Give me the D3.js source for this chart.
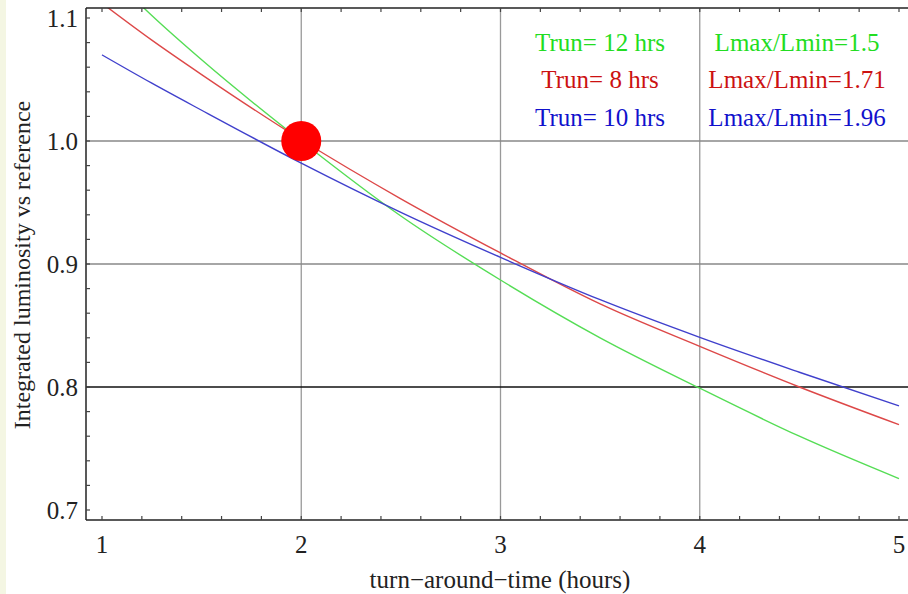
<!DOCTYPE html>
<html>
<head>
<meta charset="utf-8">
<script src="https://cdn.jsdelivr.net/npm/d3@7"></script>
<style>
  html, body { margin: 0; padding: 0; background: #ffffff; }
  svg { display: block; font-family: 'Liberation Serif', 'DejaVu Serif', serif; }
</style>
</head>
<body>
<svg id="chart" width="908" height="594"></svg>
<script>
// ---- data ----
const turnaround = [1, 1.25, 1.5, 2, 2.5, 3, 3.5, 4, 4.5, 5];
const lumiTrun12 = [1.142, 1.102, 1.066, 1.000, 0.939, 0.887, 0.840, 0.799, 0.760, 0.7255];
const lumiTrun8  = [1.112, 1.082, 1.054, 1.001, 0.953, 0.909, 0.8675, 0.833, 0.800, 0.7694];
const lumiTrun10 = [1.070, 1.047, 1.025, 0.982, 0.942, 0.9054, 0.871, 0.8404, 0.812, 0.7846];
const seriesNames = ["Trun= 12 hrs", "Trun= 8 hrs", "Trun= 10 hrs"];
const ratioLabels = ["Lmax/Lmin=1.5", "Lmax/Lmin=1.71", "Lmax/Lmin=1.96"];
const xTicks = [1, 2, 3, 4, 5];
const yTicks = [0.7, 0.8, 0.9, 1.0, 1.1];
const yTickLabels = ["0.7", "0.8", "0.9", "1.0", "1.1"];
const referencePoint = [2, 1.0];

// ---- styles ----
const FONT = "Liberation Serif, DejaVu Serif, serif";
const lineColors = ["#55dd55", "#dd4848", "#4040cc"];
const textColors = ["#22dd22", "#cc1111", "#1111cc"];

const svg = d3.select("#chart");
const W = 908, H = 594;

// left pale strip
svg.append("rect").attr("x", 0).attr("y", 0).attr("width", 6).attr("height", H).attr("fill", "#f4f6e3");

const plot = { left: 86, right: 915, top: 8, bottom: 520 };

const x = d3.scaleLinear().domain([1, 5]).range([102, 899]);
const y = d3.scaleLinear().domain([0.7, 1.0]).range([510, 141]);

// clip
svg.append("clipPath").attr("id", "clip")
  .append("rect").attr("x", plot.left).attr("y", plot.top)
  .attr("width", plot.right - plot.left).attr("height", plot.bottom - plot.top);

// grid lines
const g = svg.append("g").attr("clip-path", "url(#clip)");
[2, 3, 4].forEach(v => {
  g.append("line").attr("x1", x(v)).attr("x2", x(v)).attr("y1", plot.top).attr("y2", plot.bottom)
    .attr("stroke", "#999").attr("stroke-width", 1.3);
});
[0.9, 1.0].forEach(v => {
  g.append("line").attr("x1", plot.left).attr("x2", plot.right).attr("y1", y(v)).attr("y2", y(v))
    .attr("stroke", "#888").attr("stroke-width", 1.3);
});
g.append("line").attr("x1", plot.left).attr("x2", plot.right).attr("y1", y(0.8)).attr("y2", y(0.8))
  .attr("stroke", "#111").attr("stroke-width", 1.3);

// curves
const allSeries = [lumiTrun12, lumiTrun8, lumiTrun10];
const lineGen = d3.line().x(d => x(d[0])).y(d => y(d[1])).curve(d3.curveMonotoneX);
allSeries.forEach((vals, i) => {
  const pts = turnaround.map((t, k) => [t, vals[k]]);
  g.append("path").attr("d", lineGen(pts)).attr("fill", "none")
    .attr("stroke", lineColors[i]).attr("stroke-width", 1.4);
});

// reference dot
g.append("circle").attr("cx", x(referencePoint[0])).attr("cy", y(referencePoint[1]))
  .attr("r", 20).attr("fill", "#ff0000");

// frame
const frame = svg.append("g");
frame.append("line").attr("x1", plot.left).attr("x2", plot.left).attr("y1", plot.top).attr("y2", plot.bottom)
  .attr("stroke", "#222").attr("stroke-width", 1.5);
frame.append("line").attr("x1", plot.left).attr("x2", plot.right).attr("y1", plot.bottom).attr("y2", plot.bottom)
  .attr("stroke", "#222").attr("stroke-width", 1.5);
frame.append("line").attr("x1", plot.left).attr("x2", plot.right).attr("y1", plot.top).attr("y2", plot.top)
  .attr("stroke", "#222").attr("stroke-width", 1.5);

// minor ticks
const xMinor = d3.range(0, 21).map(i => 1 + i * 0.2).filter(v => v <= 5.01);
xMinor.forEach(v => {
  frame.append("line").attr("x1", x(v)).attr("x2", x(v)).attr("y1", plot.bottom).attr("y2", plot.bottom - 4)
    .attr("stroke", "#444").attr("stroke-width", 1.2);
  frame.append("line").attr("x1", x(v)).attr("x2", x(v)).attr("y1", plot.top).attr("y2", plot.top + 4)
    .attr("stroke", "#444").attr("stroke-width", 1.2);
});
const yMinor = d3.range(0, 21).map(i => 0.7 + i * 0.02).filter(v => v <= 1.101);
yMinor.forEach(v => {
  frame.append("line").attr("x1", plot.left).attr("x2", plot.left + 4).attr("y1", y(v)).attr("y2", y(v))
    .attr("stroke", "#444").attr("stroke-width", 1.2);
});

// tick labels
svg.selectAll(".xl").data(xTicks).enter().append("text")
  .attr("font-family", FONT)
  .attr("x", d => x(d)).attr("y", 553).attr("text-anchor", "middle")
  .attr("font-size", 25).attr("fill", "#222").text(d => d);
svg.selectAll(".yl").data(yTicks).enter().append("text")
  .attr("font-family", FONT)
  .attr("x", 78).attr("y", d => y(d) + 9).attr("text-anchor", "end")
  .attr("font-size", 25).attr("fill", "#222").text((d, i) => yTickLabels[i]);

// axis titles
svg.append("text").attr("font-family", FONT).attr("x", 500).attr("y", 588).attr("text-anchor", "middle")
  .attr("font-size", 25).attr("fill", "#222").text("turn\u2212around\u2212time (hours)");
svg.append("text").attr("font-family", FONT).attr("transform", "translate(30,265) rotate(-90)").attr("text-anchor", "middle")
  .attr("font-size", 24).attr("fill", "#222").text("Integrated luminosity vs reference");

// legend text
const rowY = [51, 88, 126];
seriesNames.forEach((s, i) => {
  svg.append("text").attr("font-family", FONT).attr("x", 600).attr("y", rowY[i]).attr("text-anchor", "middle")
    .attr("font-size", 25).attr("fill", textColors[i]).text(s);
  svg.append("text").attr("font-family", FONT).attr("x", 797).attr("y", rowY[i]).attr("text-anchor", "middle")
    .attr("font-size", 25).attr("fill", textColors[i]).text(ratioLabels[i]);
});
</script>
</body>
</html>
